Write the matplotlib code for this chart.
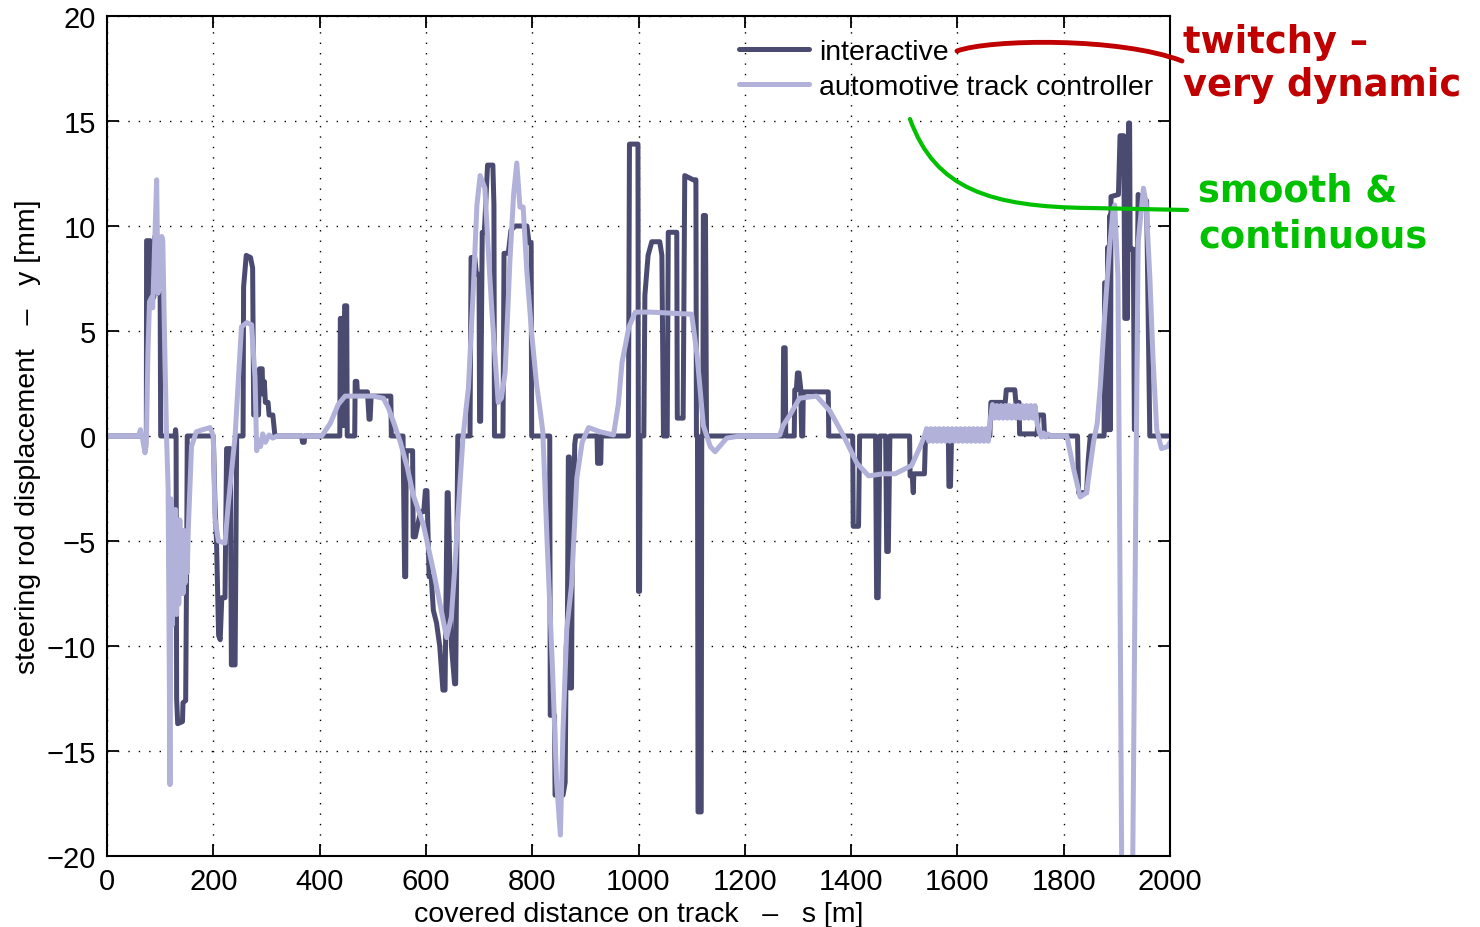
import matplotlib.pyplot as plt
from matplotlib.path import Path
from matplotlib.patches import PathPatch

# interactive driver: steering rod displacement y [mm] over covered distance s [m]
s_int = [0, 74, 74.5, 81, 82, 88, 90, 95, 96, 100, 101, 128, 129, 130, 131, 133, 142, 143, 148, 150, 151,
         200, 203, 206, 210, 213, 216, 222, 225, 232, 234, 241, 244, 256, 257, 262, 270, 274, 276, 285, 287,
         292, 293, 296, 298, 303, 305, 312, 316,
         366, 368, 371, 372, 438, 439, 443, 444, 446, 447, 451, 452, 466, 467, 470, 471, 490, 493, 495, 497,
         534, 535,
         557, 560, 562, 563, 575, 576, 580, 590, 596, 599, 602, 606, 610, 614, 620, 626, 632, 636, 640, 642,
         648, 654, 656, 660,
         683, 685, 692, 695, 700, 701, 703, 706, 710, 716, 726, 728, 729, 745, 747, 755, 760, 768, 790, 794,
         798, 799,
         833, 834, 842, 843, 858, 862, 864, 866, 868, 870, 871, 874, 876, 879, 880, 882, 922, 923, 929, 930,
         981, 983, 999, 1000, 1002, 1003, 1010, 1012, 1018, 1025, 1040, 1044, 1047, 1054, 1056, 1072, 1073,
         1084, 1087, 1103, 1108, 1109, 1111, 1112, 1118, 1119, 1121, 1122, 1126, 1128,
         1272, 1273, 1276, 1277, 1293, 1294, 1297, 1299, 1302, 1305, 1307, 1309, 1310, 1357, 1358,
         1403, 1404, 1414, 1416, 1446, 1448, 1451, 1454, 1465, 1467, 1470, 1473, 1510, 1511, 1515, 1517,
         1518, 1538, 1540, 1583, 1584, 1587, 1589,
         1661, 1663, 1690, 1692, 1708, 1710, 1716, 1717, 1750, 1752, 1762, 1764,
         1826, 1828, 1843, 1846, 1850, 1876, 1877, 1879, 1880, 1882, 1883, 1884, 1886, 1887, 1888, 1889,
         1903, 1906, 1913, 1915, 1920, 1922, 1924, 1925, 1931, 1933, 1936, 1940, 1956, 1962, 2000]
y_int = [0, 0, 9.3, 9.3, 6.6, 6.6, 9.5, 9.5, 6.8, 6.8, 0, 0, 0.3, 0, -12.5, -13.7, -13.6, -12.7, -12.6, -5.5, 0,
         0, -3.1, -5, -9.5, -9.7, -7.7, -7.7, -0.6, -0.6, -10.9, -10.9, 0, 0, 7.1, 8.6, 8.5, 8.0, 1.0, 1.0, 3.2,
         3.2, 2.0, 2.6, 1.6, 1.6, 1.0, 1.0, 0,
         0, -0.3, -0.3, 0, 0, 5.6, 5.6, 0.5, 0.5, 6.2, 6.2, 0, 0, 2.6, 2.6, 2.1, 2.1, 0.8, 0.8, 1.9,
         1.9, 0,
         0, -6.7, -6.7, -0.7, -0.7, -4.8, -4.8, -3.6, -3.6, -2.6, -2.6, -6.7, -6.7, -8.3, -8.9, -10, -12.1, -12.1,
         -2.7, -2.7, -10, -11.8, -11.8, 0,
         0, 8.5, 8.5, 7.7, 7.7, 0.7, 0.7, 9.7, 9.7, 12.9, 12.9, 11, 0, 0, 8.7, 8.7, 9.8, 10, 10, 9.2,
         9.2, 0,
         0, -13.3, -13.3, -17.1, -17.1, -16.5, -10, -10, -1, -1, -12, -12, -2, -2, -0.4, 0, 0, -1.3, -1.3, 0,
         0, 13.9, 13.9, -7.4, -7.4, 0, 0, 6.7, 8.6, 9.25, 9.25, 8.6, 0, 0, 9.7, 9.7, 0.85,
         0.85, 12.4, 12.2, 12.2, 0, 0, -17.9, -17.9, 0, 0, 10.5, 10.5, 0,
         0, 4.2, 4.2, 0, 0, 2.2, 2.2, 3.0, 3.0, 2.3, 0, 0, 2.1, 2.1, 0,
         0, -4.3, -4.3, 0, 0, -7.7, -7.7, 0, 0, -5.5, -5.5, 0, 0, -1.9, -1.9, -2.7,
         -1.8, -1.8, 0, 0, -2.4, -2.4, 0,
         0, 1.6, 1.6, 2.2, 2.2, 1.6, 1.6, 0.1, 0.1, 1.0, 1.0, 0,
         0, -2.7, -2.7, -1.2, 0, 0, 7.3, 7.3, 0.3, 0.3, 9.0, 0.3, 0.3, 10.5, 0.3, 11.4,
         11.5, 14.3, 14.3, 5.6, 5.6, 14.9, 14.9, 8.9, 8.9, 0.3, 0.3, 11.5, 11.2, 0, 0]

# automotive track controller
s_auto = [0, 59, 63, 66, 71.5, 74, 77, 80, 84, 86, 93.4, 96, 99, 103, 105, 108, 112, 115, 118.5, 121,
          123, 125, 127, 129, 131, 133, 135, 137, 139, 141, 143, 145, 147, 149, 151, 153, 159, 168, 180, 194,
          200, 203, 209.5, 222, 228, 241, 247, 253, 263, 272, 278.5, 281.6, 285, 289, 293, 298, 305, 312, 320,
          404, 420, 435, 448, 470, 500, 520, 530, 540, 552, 565, 576, 595, 614, 639, 648, 655, 664, 670,
          680, 689, 696, 702, 711, 717, 724, 736, 742, 749, 758, 765, 771, 777, 783, 790, 799, 808, 815, 820,
          828, 838, 846, 853, 858, 865, 874, 884, 894, 906, 928, 953, 962, 969, 982, 994, 1022, 1060, 1100,
          1110, 1122, 1135, 1144, 1166, 1191, 1258,
          1266, 1272, 1285, 1303, 1335, 1360, 1386, 1411, 1433, 1460, 1483, 1514, 1530, 1538,
          1542, 1546, 1550, 1554, 1558, 1562, 1566, 1570, 1574, 1578, 1582, 1586, 1590, 1594, 1598,
          1602, 1606, 1610, 1614, 1618, 1622, 1626, 1630, 1634, 1638, 1642, 1646, 1650, 1654, 1658,
          1662, 1666, 1670, 1674, 1678, 1682, 1686, 1690, 1694, 1698, 1702, 1706, 1710, 1714, 1718, 1722,
          1726, 1730, 1734, 1738, 1742, 1746, 1750, 1754, 1758, 1762, 1766, 1770, 1776,
          1806, 1818, 1831, 1843, 1856, 1863, 1869, 1877, 1886, 1893, 1896, 1902, 1905, 1909, 1913, 1926,
          1930, 1934, 1940, 1950, 1955, 1962, 1968, 1975, 1984, 1996, 2000]
y_auto = [0, 0, 0.3, 0, -0.8, -0.4, 4, 6.4, 6.6, 6.1, 12.2, 6.8, 7.5, 9.5, 9.3, 5, 0, -2.5, -16.6, -3,
          -9, -4, -8, -3.5, -8.5, -4, -8, -4, -7.5, -4.5, -7.5, -4.5, -7, -5, -6.5, -4.4, -0.5, 0.2, 0.3, 0.4,
          0, -3.9, -5, -5.1, -3.3, 0, 2.6, 5.2, 5.4, 5.3, 2.8, -0.7, -0.2, -0.5, 0.1, -0.3, 0.05, -0.1, 0,
          0, 0.6, 1.5, 1.9, 1.9, 1.9, 1.8, 1.3, 0.6, -0.3, -1.5, -2.8, -4.2, -6.4, -9.6, -8.6, -6, -2.3, 0,
          2.3, 6.9, 11, 12.4, 11.8, 9, 6.0, 1.6, 1.8, 3.0, 8.3, 11.5, 13.0, 10.9, 10.9, 7.8, 4.9, 2.5, 1.2, 0.2,
          -5, -11, -16.5, -19, -14, -9.2, -7.1, -2.0, -0.3, 0.4, 0.2, 0.05, 1.5, 3.5, 5.2, 5.9, 5.9, 5.85, 5.8,
          3.9, 0.5, -0.5, -0.75, -0.1, 0, 0,
          0.05, 0.5, 1.0, 1.8, 1.9, 1.2, 0, -1.3, -1.9, -1.8, -1.8, -1.4, -0.5, 0,
          0.35, -0.25, 0.35, -0.25, 0.35, -0.25, 0.35, -0.25, 0.35, -0.25, 0.35, -0.25, 0.35, -0.25, 0.35,
          -0.25, 0.35, -0.25, 0.35, -0.25, 0.35, -0.25, 0.35, -0.25, 0.35, -0.25, 0.35, -0.25, 0.35, -0.25,
          0.8, 1.5, 0.85, 1.45, 0.85, 1.45, 0.85, 1.45, 0.85, 1.45, 0.85, 1.45, 0.85, 1.45, 0.85, 1.45,
          0.85, 1.45, 0.85, 1.45, 0.85, 1.45, 0.6, 0.2, -0.05, 0.15, -0.05, 0.1, 0,
          0, -1.5, -2.9, -2.7, -0.3, 0.6, 2.4, 5.7, 8.9, 10.8, 11.0, 7.6, -3, -20, -26, -26,
          -20, -8, 9.2, 11.8, 11.1, 7.6, 3.7, 0.3, -0.6, -0.5, -0.3]

labels = ["interactive", "automotive track controller"]
colors = ["#4b4b71", "#b1b1d9"]

plt.rcParams["font.family"] = ["Liberation Sans", "DejaVu Sans"]

fig = plt.figure(figsize=(14.8, 9.28), dpi=100)
ax = fig.add_axes([107 / 1480, 1 - 857 / 928, (1170 - 107) / 1480, 840 / 928])

ax.plot(s_int, y_int, color=colors[0], lw=3.6, label=labels[0],
        solid_joinstyle="round", solid_capstyle="round")
ax.plot(s_auto, y_auto, color=colors[1], lw=3.6, label=labels[1],
        solid_joinstyle="round", solid_capstyle="round")

ax.set_xlim(0, 2000)
ax.set_ylim(-20, 20)
ax.set_xticks(range(0, 2001, 200))
ax.set_yticks(range(-20, 21, 5))
ax.grid(True, color="black", linestyle=(0, (1, 6.5)), linewidth=1.0)
ax.tick_params(direction="in", top=True, right=True, length=8.5, width=1.3,
               labelsize=21, pad=8)
for sp in ax.spines.values():
    sp.set_linewidth(1.5)

ax.set_xlabel("covered distance on track   \u2013   s [m]", fontsize=20.5, labelpad=4)
ax.set_ylabel("steering rod displacement   \u2013   y [mm]", fontsize=20.5, labelpad=4)

ax.legend(loc="upper right", bbox_to_anchor=(1.0 + 10 / 1063, 1.0 + 4 / 840), frameon=False,
          fontsize=20.5, handlelength=2.45, handletextpad=0.35, labelspacing=0.3, borderaxespad=0.55)

# callout annotations outside the plot
W, H = 1480, 928


def fpt(x, y):
    return (x / W, 1 - y / H)


red = "#c00000"
green = "#00c000"
red_path = Path([fpt(957, 52), fpt(990, 40), fpt(1120, 38), fpt(1182, 62)],
                [Path.MOVETO, Path.CURVE4, Path.CURVE4, Path.CURVE4])
fig.add_artist(PathPatch(red_path, transform=fig.transFigure, fill=False,
                         edgecolor=red, lw=3.5, capstyle="round"))
green_path = Path([fpt(910, 120), fpt(935, 190), fpt(990, 208), fpt(1090, 209), fpt(1187, 211)],
                  [Path.MOVETO, Path.CURVE4, Path.CURVE4, Path.CURVE4, Path.LINETO])
fig.add_artist(PathPatch(green_path, transform=fig.transFigure, fill=False,
                         edgecolor=green, lw=3.0, capstyle="round"))

font_kw = dict(fontsize=26.5, fontweight="bold", family="DejaVu Sans", ha="left", va="baseline")
fig.text(*fpt(1183, 53), "twitchy \u2013", color=red, **font_kw)
fig.text(*fpt(1183, 96), "very dynamic", color=red, **font_kw)
fig.text(*fpt(1198, 202), "smooth &", color=green, **font_kw)
fig.text(*fpt(1198, 247), "continuous", color=green, **font_kw)

fig.savefig("out.png", dpi=100)
